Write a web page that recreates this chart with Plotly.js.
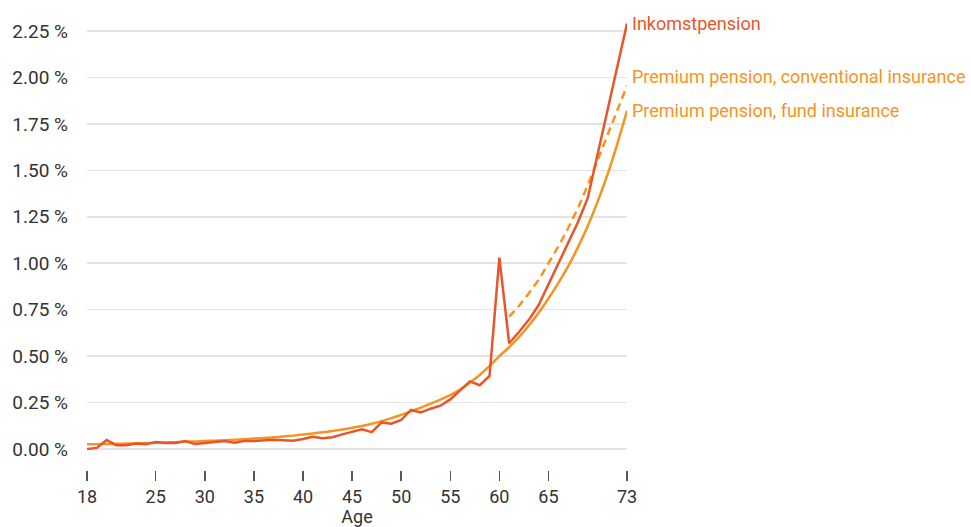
<!DOCTYPE html>
<html>
<head>
<meta charset="utf-8">
<script src="https://cdn.plot.ly/plotly-3.0.1.min.js"></script>
<style>
  html, body { margin: 0; padding: 0; background: #fff; }
  #chart { width: 971px; height: 527px; }
</style>
</head>
<body>
<div id="chart"></div>
<script>
// Age (years)
const ages = [18,19,20,21,22,23,24,25,26,27,28,29,30,31,32,33,34,35,36,37,38,39,40,41,42,43,44,45,46,47,48,49,50,51,52,53,54,55,56,57,58,59,60,61,62,63,64,65,66,67,68,69,70,71,72,73];

// Inkomstpension (% per age)
const inkomstpension = [0.000,0.006,0.048,0.020,0.020,0.030,0.025,0.037,0.032,0.032,0.043,0.027,0.032,0.037,0.043,0.034,0.043,0.043,0.047,0.050,0.047,0.045,0.054,0.066,0.058,0.063,0.079,0.091,0.106,0.091,0.143,0.136,0.156,0.210,0.197,0.217,0.233,0.267,0.314,0.364,0.343,0.393,1.030,0.569,0.630,0.695,0.775,0.885,1.000,1.110,1.220,1.350,1.585,1.820,2.055,2.290];

// Premium pension, fund insurance
const fundInsurance = [0.025,0.026,0.027,0.028,0.029,0.031,0.032,0.034,0.035,0.037,0.039,0.041,0.043,0.045,0.047,0.050,0.053,0.056,0.059,0.063,0.067,0.072,0.078,0.084,0.090,0.097,0.105,0.114,0.124,0.136,0.150,0.166,0.184,0.203,0.223,0.244,0.266,0.290,0.320,0.357,0.398,0.447,0.500,0.548,0.603,0.665,0.733,0.810,0.893,0.983,1.085,1.200,1.330,1.475,1.640,1.820];

// Premium pension, conventional insurance (from age 61)
const convAges = [61,62,63,64,65,66,67,68,69,70,71,72,73];
const conventionalInsurance = [0.712,0.770,0.838,0.910,1.000,1.089,1.188,1.296,1.420,1.555,1.690,1.825,1.955];

// Axis ticks
const xTicks = [18,25,30,35,40,45,50,55,60,65,73];
const yTicks = [0,0.25,0.5,0.75,1.0,1.25,1.5,1.75,2.0,2.25];
const yTickText = yTicks.map(v => v.toFixed(2) + ' %');

const labels = {
  ink: 'Inkomstpension',
  conv: 'Premium pension, conventional insurance',
  fund: 'Premium pension, fund insurance'
};

const RED = '#E9552B';
const ORANGE = '#F7931E';
const FONT = 'Roboto, "Open Sans", sans-serif';

const traces = [
  { x: ages, y: fundInsurance, type: 'scatter', mode: 'lines', name: labels.fund,
    line: { color: ORANGE, width: 2.5, shape: 'spline', smoothing: 0.5 }, hoverinfo: 'skip' },
  { x: convAges, y: conventionalInsurance, type: 'scatter', mode: 'lines', name: labels.conv,
    line: { color: ORANGE, width: 2.5, dash: '8px,5px' }, hoverinfo: 'skip' },
  { x: ages, y: inkomstpension, type: 'scatter', mode: 'lines', name: labels.ink,
    line: { color: RED, width: 2.5 }, hoverinfo: 'skip' }
];

const lastAge = ages[ages.length - 1];
const layout = {
  width: 971, height: 527,
  margin: { l: 87, r: 344, t: 12, b: 57 },
  paper_bgcolor: '#ffffff', plot_bgcolor: '#ffffff',
  showlegend: false,
  font: { family: FONT, size: 18, color: '#333333' },
  xaxis: {
    range: [18, 73],
    tickmode: 'array', tickvals: xTicks, ticktext: xTicks.map(String),
    ticks: 'outside', ticklen: 10, tickwidth: 1.5, tickcolor: '#555555',
    showgrid: false, zeroline: false, showline: false,
    tickfont: { family: FONT, size: 18, color: '#333333' },
    title: { text: 'Age', font: { family: FONT, size: 18, color: '#333333' }, standoff: 10 }
  },
  yaxis: {
    range: [-0.113, 2.352],
    tickmode: 'array', tickvals: yTicks, ticktext: yTickText,
    ticks: '', showgrid: true, gridcolor: '#e3e3e3', gridwidth: 1.5,
    zeroline: false, showline: false,
    ticklabelstandoff: 18,
    tickfont: { family: FONT, size: 19, color: '#333333' }
  },
  annotations: [
    { x: lastAge, y: inkomstpension[inkomstpension.length - 1], xref: 'x', yref: 'y',
      text: labels.ink, showarrow: false, xanchor: 'left', yanchor: 'middle', xshift: 3,
      font: { family: FONT, size: 18, color: RED } },
    { x: lastAge, y: conventionalInsurance[conventionalInsurance.length - 1], xref: 'x', yref: 'y',
      text: labels.conv, showarrow: false, xanchor: 'left', yanchor: 'middle', xshift: 3, yshift: 9,
      font: { family: FONT, size: 18, color: ORANGE } },
    { x: lastAge, y: fundInsurance[fundInsurance.length - 1], xref: 'x', yref: 'y',
      text: labels.fund, showarrow: false, xanchor: 'left', yanchor: 'middle', xshift: 3,
      font: { family: FONT, size: 18, color: ORANGE } }
  ]
};

Plotly.newPlot('chart', traces, layout, { staticPlot: true, displayModeBar: false });
</script>
</body>
</html>
